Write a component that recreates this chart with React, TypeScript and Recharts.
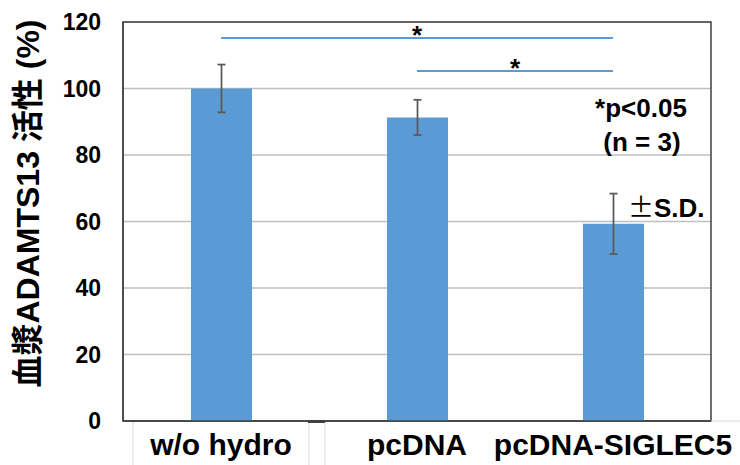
import React from 'react';
import { BarChart, Bar, XAxis, YAxis, CartesianGrid, ErrorBar, ReferenceLine, ReferenceArea } from 'recharts';

const categories = ['w/o hydro', 'pcDNA', 'pcDNA-SIGLEC5'];
const activity = [100, 91.3, 59.3];
const sdValues = [7.2, 5.3, 9.1];
const yTicks = [0, 20, 40, 60, 80, 100, 120];
const sigFrom = ['w/o hydro', 'pcDNA'];
const sigTo = ['pcDNA-SIGLEC5', 'pcDNA-SIGLEC5'];
const sigLevel = [115.2, 105.3];
const sigMark = ['*', '*'];
const yTitle = '血漿ADAMTS13 活性 (%)';
const noteP = '*p<0.05';
const noteN = '(n = 3)';
const noteSD = '±S.D.';

const data = categories.map((c, i) => ({ name: c, value: activity[i], sd: sdValues[i] }));

const FONT = "'Liberation Sans', Arial, 'Noto Sans CJK JP', sans-serif";
const BLUE = '#5B9BD5';

const YTitle = (props: any) => {
  const vb = props.viewBox || { x: 0, y: 22, width: 123, height: 399 };
  const cx = 28;
  const cy = vb.y + vb.height / 2 - 18;
  return (
    <text
      x={cx}
      y={cy}
      transform={`rotate(-90, ${cx}, ${cy})`}
      textAnchor="middle"
      dominantBaseline="central"
      fontSize={32}
      fontWeight={700}
      fontFamily={FONT}
      fill="#000"
    >
      {yTitle}
    </text>
  );
};

export default function App() {
  return (
    <div style={{ position: 'absolute', left: 0, top: 0, width: 740, height: 465, background: '#fff' }}>
      <BarChart
        width={740}
        height={465}
        data={data}
        margin={{ top: 22, right: 29, bottom: 0, left: 0 }}
        barSize={61}
      >
        <CartesianGrid vertical={false} stroke="#BFBFBF" strokeWidth={1.5} />
        <XAxis
          dataKey="name"
          height={44}
          interval={0}
          tickLine={false}
          tickSize={0}
          tickMargin={13}
          axisLine={{ stroke: '#404040', strokeWidth: 1.5 }}
          tick={{ fontSize: 30, fontWeight: 700, fill: '#000', fontFamily: FONT }}
        />
        <YAxis
          width={123}
          domain={[0, 120]}
          ticks={yTicks}
          interval={0}
          tickLine={false}
          tickSize={0}
          tickMargin={22}
          axisLine={{ stroke: '#404040', strokeWidth: 1.5 }}
          tick={{ fontSize: 23, fontWeight: 700, fill: '#000', fontFamily: FONT }}
          label={<YTitle />}
        />
        <ReferenceArea y1={0} y2={120} fill="none" stroke="#404040" strokeWidth={1.5} fillOpacity={0} />
        <Bar dataKey="value" fill={BLUE} isAnimationActive={false}>
          <ErrorBar dataKey="sd" width={4} stroke="#595959" strokeWidth={1.75} direction="y" />
        </Bar>
        {sigLevel.map((lvl, i) => (
          <ReferenceLine
            key={i}
            segment={[
              { x: sigFrom[i], y: lvl },
              { x: sigTo[i], y: lvl },
            ]}
            stroke={BLUE}
            strokeWidth={2}
            label={{
              value: sigMark[i],
              position: 'top',
              offset: -6,
              fontSize: 26,
              fontWeight: 700,
              fill: '#000',
              fontFamily: FONT,
            }}
          />
        ))}
      </BarChart>
      <svg
        width={740}
        height={465}
        style={{ position: 'absolute', left: 0, top: 0, pointerEvents: 'none' }}
      >
        <g stroke="#D9D9D9" strokeWidth={1}>
          <line x1={133} y1={422} x2={133} y2={465} />
          <line x1={309} y1={422} x2={309} y2={465} />
          <line x1={325} y1={422} x2={325} y2={465} />
          <line x1={711} y1={421} x2={740} y2={421} />
        </g>
        <rect x={308} y={420} width={17} height={3} fill="#404040" />
        <g fontFamily={FONT} fontWeight={700} fill="#000" fontSize={26}>
          <text x={641} y={117} textAnchor="middle">{noteP}</text>
          <text x={642} y={151} textAnchor="middle">{noteN}</text>
          <text x={628} y={217}>
            <tspan fontFamily="'Noto Sans CJK JP', sans-serif" fontWeight={400}>±</tspan>
            <tspan>{noteSD.slice(1)}</tspan>
          </text>
        </g>
      </svg>
    </div>
  );
}
